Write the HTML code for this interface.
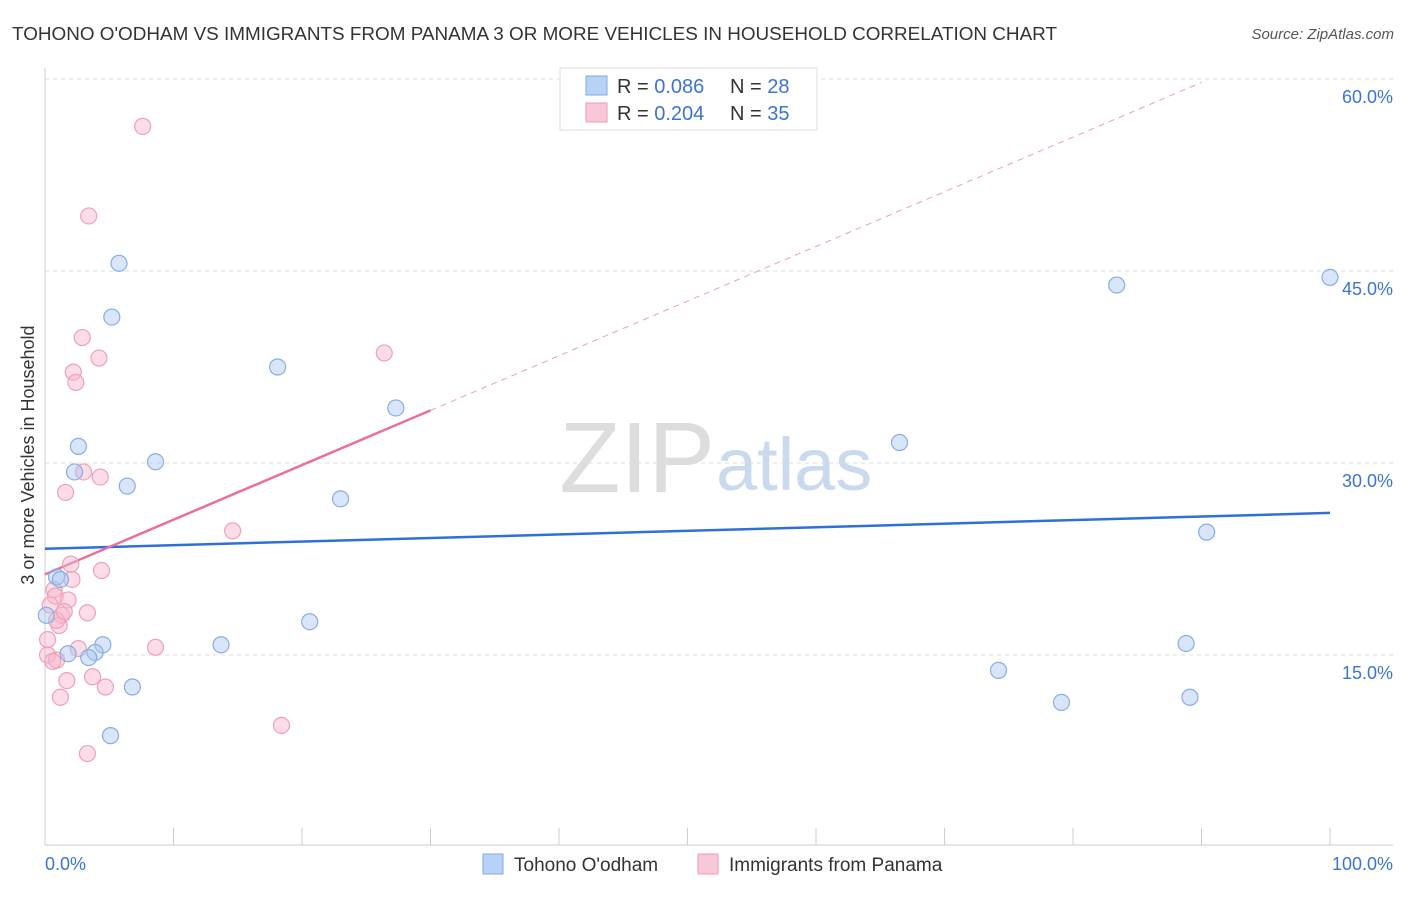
<!DOCTYPE html>
<html><head><meta charset="utf-8"><style>
body{margin:0;background:#fff;font-family:"Liberation Sans",sans-serif}
svg text{font-family:"Liberation Sans",sans-serif}
</style></head><body>
<svg id="chart" width="1406" height="892">
<text x="12" y="40" font-size="18" fill="#333" textLength="1045" lengthAdjust="spacingAndGlyphs">TOHONO O'ODHAM VS IMMIGRANTS FROM PANAMA 3 OR MORE VEHICLES IN HOUSEHOLD CORRELATION CHART</text>
<text x="1394" y="39" font-size="15" fill="#555" font-style="italic" text-anchor="end">Source: ZipAtlas.com</text>
<text x="0" y="0" transform="translate(34,455) rotate(-90)" font-size="18" fill="#333" text-anchor="middle">3 or more Vehicles in Household</text>
<text x="715" y="492" font-size="100" fill="#ddd" text-anchor="end" font-family="Liberation Serif">ZIP</text>
<text x="716" y="490" font-size="74" fill="#c9d9ee">atlas</text>
<g id="grid"></g><g id="axes"></g><g id="lines"></g><g id="points"></g>
<g>
<rect x="560" y="68" width="257" height="62" fill="#fff" stroke="#ddd"/>
<rect x="586" y="76" width="21" height="19" fill="#b8d2f5" stroke="#7fa9e0"/>
<rect x="586" y="103" width="21" height="19" fill="#f9c8d8" stroke="#ee9ab5"/>
<text x="617" y="93" font-size="20" fill="#333">R = <tspan fill="#3b74d1">0.086</tspan></text>
<text x="730" y="93" font-size="20" fill="#333">N = <tspan fill="#3b74d1">28</tspan></text>
<text x="617" y="120" font-size="20" fill="#333">R = <tspan fill="#3b74d1">0.204</tspan></text>
<text x="730" y="120" font-size="20" fill="#333">N = <tspan fill="#3b74d1">35</tspan></text>
</g>
<g>
<rect x="483" y="854" width="20" height="20" fill="#b8d2f5" stroke="#7fa9e0"/>
<text x="514" y="871" font-size="19" fill="#333">Tohono O'odham</text>
<rect x="698" y="854" width="20" height="20" fill="#f9c8d8" stroke="#ee9ab5"/>
<text x="729" y="871" font-size="19" fill="#333">Immigrants from Panama</text>
</g>
</svg>
<script>
const yTicks=[15,30,45,60];
const yTickLabels=["15.0%","30.0%","45.0%","60.0%"];
const xEndLabels=["0.0%","100.0%"];
const blueX=[5.76,5.2,18.1,27.3,2.6,8.6,2.3,6.4,23.0,0.9,1.2,0.1,20.6,4.5,13.7,1.8,3.9,3.4,6.8,5.1,66.5,83.4,100,90.4,88.8,74.2,79.1,89.1];
const blueY=[45.6,41.4,37.5,34.3,31.3,30.1,29.3,28.2,27.2,21.1,20.9,18.1,17.6,15.8,15.8,15.1,15.2,14.8,12.5,8.7,31.6,43.9,44.5,24.6,15.9,13.8,11.3,11.7];
const pinkX=[7.6,3.4,2.9,4.2,26.4,2.2,2.4,3.0,4.3,1.6,14.6,2.0,4.4,2.1,0.7,0.8,1.8,0.4,3.3,1.3,1.1,0.9,2.6,8.6,0.2,0.9,0.6,3.7,1.7,4.7,1.2,18.4,3.3,0.2,1.5];
const pinkY=[56.3,49.3,39.8,38.2,38.6,37.1,36.3,29.3,28.9,27.7,24.7,22.1,21.6,20.9,20.1,19.6,19.3,18.9,18.3,18.1,17.3,17.7,15.5,15.6,15.0,14.6,14.5,13.3,13.0,12.5,11.7,9.5,7.3,16.2,18.4];
const blueTrend=[23.3,26.1];
const pinkTrend=[21.3,0.427];
const NS="http://www.w3.org/2000/svg";
const xs=v=>45+v*12.85, ys=v=>655-(v-15)*12.8;
function mk(p,t,a){const e=document.createElementNS(NS,t);for(const k in a)e.setAttribute(k,a[k]);document.getElementById(p).appendChild(e);return e;}
yTicks.forEach((t,i)=>{
 const g=mk('grid','line',{x1:45,x2:1393,y1:ys(t),y2:ys(t),stroke:'#ddd','stroke-dasharray':'4,4'});
 
 
 const l=mk('grid','text',{x:1393,y:ys(t)+24,'font-size':18,fill:'#3b74d1','text-anchor':'end'});l.textContent=yTickLabels[i];
 
 
});
let a=mk('axes','line',{x1:45,x2:45,y1:68,y2:845,stroke:'#ccc'});


a=mk('axes','line',{x1:45,x2:1393,y1:845,y2:845,stroke:'#ccc'});


for(let i=1;i<=10;i++){const t=mk('axes','line',{x1:xs(i*10),x2:xs(i*10),y1:828,y2:845,stroke:'#ccc'});
 
 }
[[0,'start'],[100,'end']].forEach((d,i)=>{const t=mk('axes','text',{x:i?1393:45,y:870,'font-size':18,fill:'#3b74d1','text-anchor':d[1]});t.textContent=xEndLabels[i];
 
 });
let ln=mk('lines','line',{x1:xs(0),y1:ys(blueTrend[0]),x2:xs(100),y2:ys(blueTrend[1]),stroke:'#2f6fd6','stroke-width':2.5});


ln=mk('lines','line',{x1:xs(0),y1:ys(pinkTrend[0]),x2:xs(30),y2:ys(pinkTrend[0]+30*pinkTrend[1]),stroke:'#e8709a','stroke-width':2.5});


ln=mk('lines','line',{x1:xs(30),y1:ys(pinkTrend[0]+30*pinkTrend[1]),x2:xs(90),y2:ys(pinkTrend[0]+90*pinkTrend[1]),stroke:'#e8a0b8','stroke-width':1,'stroke-dasharray':'6,5'});


pinkX.forEach((x,i)=>{const c=mk('points','circle',{cx:xs(x),cy:ys(pinkY[i]),r:8,fill:'rgba(248,180,202,0.45)',stroke:'#eea0ba','stroke-width':1.2});
 
 });
blueX.forEach((x,i)=>{const c=mk('points','circle',{cx:xs(x),cy:ys(blueY[i]),r:8,fill:'rgba(170,198,240,0.45)',stroke:'#86aee4','stroke-width':1.2});
 
 });
</script>
</body></html>
